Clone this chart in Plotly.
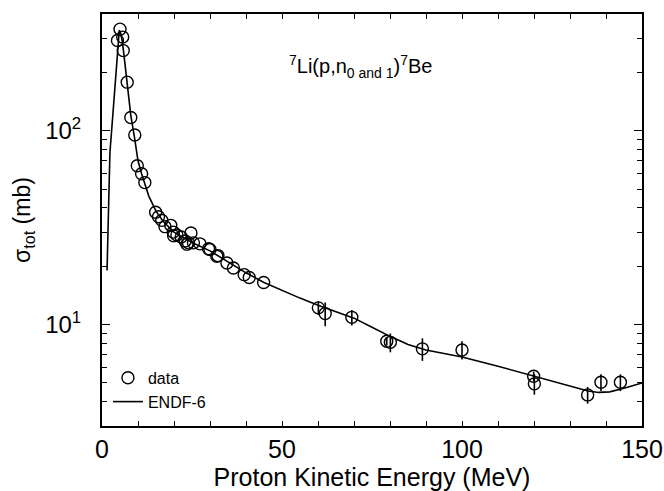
import plotly.graph_objects as go

# Measured data (Proton energy in MeV, cross section in mb)
E_data = [4.3, 5.0, 5.75, 5.9, 7.0, 8.0, 9.1, 9.8, 11.0, 11.9, 14.9, 15.7, 16.6, 17.5,
          19.1, 19.8, 19.9, 20.8, 22.0, 23.1, 23.6, 24.0, 24.7, 25.4, 27.2, 29.6, 30.0,
          31.9, 32.2, 34.7, 36.5, 39.5, 40.9, 44.9, 60.1, 62.0, 69.4, 79.1, 80.1, 89.0,
          100.0, 119.9, 120.1, 134.9, 138.6, 144.0]
sig_data = [292, 334, 304, 259, 178, 117, 95, 66, 60, 54, 38, 36, 34.5, 32,
            32.5, 30, 28.7, 29, 28.3, 27, 26.0, 26.4, 29.7, 26.4, 26.1, 24.6, 24.4,
            22.5, 22.7, 20.8, 19.6, 18.1, 17.5, 16.5, 12.2, 11.4, 10.9, 8.2, 8.1, 7.5,
            7.4, 5.42, 4.95, 4.34, 5.04, 5.04]
err_data = [0, 0, 0, 0, 0, 0, 0, 0, 0, 0, 0, 0, 0, 0,
            0, 0, 0, 0, 0, 0, 0, 0, 0, 0, 0, 0, 0,
            0, 0, 0, 0, 0, 0, 0, 1.0, 1.6, 1.0, 0.4, 0.9, 1.0,
            0.8, 0.3, 0.6, 0.43, 0.5, 0.5]

# ENDF-6 evaluation curve
E_endf = [1.4, 2.2, 3.0, 3.9, 4.5, 4.8, 5.2, 5.6, 6.0, 6.5, 7.0, 7.5, 8.0, 9.0, 10, 11,
          12, 13, 15, 17, 20, 25, 30, 35, 40, 45, 50, 55, 60, 65, 70, 75, 80, 85, 90,
          95, 100, 110, 120, 130, 135, 138, 141, 145, 150]
sig_endf = [19, 77, 120, 198, 290, 330, 318, 292, 255, 215, 178, 145, 120, 93, 70, 60,
            53, 46, 38.5, 34, 30, 26.5, 24, 21, 18.5, 16.5, 15.0, 13.7, 12.6, 11.7, 10.8,
            9.7, 8.7, 7.9, 7.4, 7.1, 6.8, 6.1, 5.42, 4.8, 4.55, 4.47, 4.5, 4.7, 5.0]

x_tickvals = list(range(0, 151, 10))
x_ticktext = [str(v) if v % 50 == 0 else "" for v in x_tickvals]
y_major = [10, 100]
y_major_text = ["10<sup>1</sup>", "10<sup>2</sup>"]
y_minor = [3, 4, 5, 6, 7, 8, 9, 20, 30, 40, 50, 60, 70, 80, 90, 200, 300, 400]

FONT = "Liberation Sans, Arial, sans-serif"

fig = go.Figure()
fig.add_trace(go.Scatter(
    x=E_data, y=sig_data, mode="markers", name="data",
    marker=dict(symbol="circle-open", size=12, color="black", line=dict(width=1.4)),
    error_y=dict(type="data", array=err_data, color="black", thickness=1.6, width=0),
))
fig.add_trace(go.Scatter(
    x=E_endf, y=sig_endf, mode="lines", name="ENDF-6",
    line=dict(color="black", width=1.6),
))

fig.add_annotation(
    x=0.478, y=0.912, xref="paper", yref="paper", showarrow=False,
    text="<sup>7</sup>Li(p,n<sub>0 and 1</sub>)<sup>7</sup>Be",
    font=dict(family=FONT, size=20, color="black"),
)

fig.update_layout(
    width=664, height=491,
    margin=dict(l=102, r=22, t=14, b=65),
    paper_bgcolor="white", plot_bgcolor="white",
    font=dict(family=FONT, color="black"),
    showlegend=True,
    legend=dict(x=0.011, y=0.158, xanchor="left", yanchor="top",
                bgcolor="rgba(0,0,0,0)", font=dict(size=16, family=FONT),
                itemwidth=30, tracegroupgap=0),
)
fig.update_xaxes(
    range=[0, 150], tickmode="array", tickvals=x_tickvals, ticktext=x_ticktext,
    ticks="inside", ticklen=5, tickwidth=1.3, tickcolor="black",
    showline=True, linecolor="black", linewidth=2, mirror="ticks",
    showgrid=False, zeroline=False, automargin=False,
    tickfont=dict(size=25, family=FONT),
    title=dict(text="Proton Kinetic Energy (MeV)", font=dict(size=25, family=FONT), standoff=2),
)
fig.update_yaxes(
    type="log", range=[0.4771, 2.602],
    tickmode="array", tickvals=y_major, ticktext=y_major_text,
    ticks="inside", ticklen=8, tickwidth=1.3, tickcolor="black",
    minor=dict(tickmode="array", tickvals=y_minor, ticks="inside", ticklen=5,
               tickwidth=1.3, tickcolor="black", showgrid=False),
    showline=True, linecolor="black", linewidth=2, mirror="ticks",
    showgrid=False, zeroline=False, automargin=False,
    tickfont=dict(size=24, family=FONT), ticklabelstandoff=14,
    title=dict(text="σ<sub>tot</sub> (mb)", font=dict(size=23, family=FONT), standoff=8),
)

fig.write_html("out.html")
